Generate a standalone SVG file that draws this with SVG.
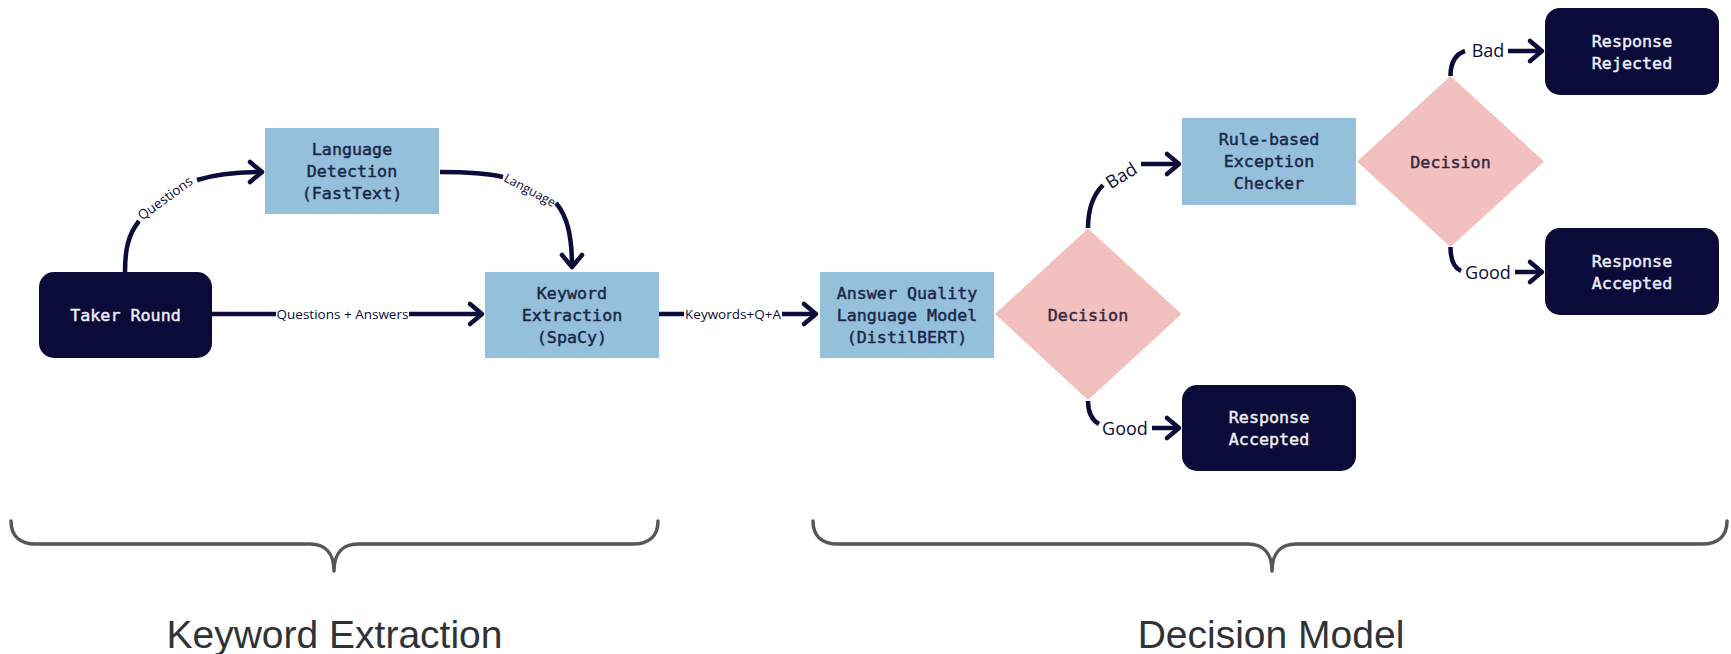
<svg xmlns="http://www.w3.org/2000/svg" width="1731" height="654" viewBox="0 0 1731 654">
  <style>
    .box { fill: #94c0dc; }
    .dark { fill: #0b0b3a; }
    .dia { fill: #f2c0bf; }
    .t { font-family: "DejaVu Sans Mono", "Liberation Mono", monospace; font-size: 16.7px; text-anchor: middle; dominant-baseline: central; stroke-width: 0.45; }
    .tb { fill: #1b2748; stroke: #1b2748; }
    .tw { fill: #eceef5; stroke: #eceef5; }
    .td { fill: #35283f; stroke: #35283f; }
    .c { fill: none; stroke: #0c0c3c; stroke-width: 4.5; stroke-linecap: butt; }
    .lab { font-family: "Open Sans", "Noto Sans", sans-serif; fill: #0c0c3c; text-anchor: middle; dominant-baseline: central; }
    .s { font-size: 13.5px; }
    .m { font-size: 18px; }
    .brace { fill: none; stroke: #555759; stroke-width: 3.5; stroke-linecap: round; stroke-linejoin: round; }
    .bl { font-family: "Liberation Sans", Arial, sans-serif; font-size: 39px; fill: #2f3337; text-anchor: middle; }
  </style>
  <defs>
    <marker id="arrow" markerUnits="userSpaceOnUse" viewBox="-16 -14 20 28" markerWidth="20" markerHeight="28" refX="0" refY="0" orient="auto">
      <path d="M-12,-10 L0,0 L-12,10" fill="none" stroke="#0c0c3c" stroke-width="4.5" stroke-linecap="round" stroke-linejoin="round"/>
    </marker>
  </defs>

  <rect width="1731" height="654" fill="#ffffff"/>

  <!-- pipeline nodes -->
  <g id="taker-round">
    <rect class="dark" x="39" y="272" width="173" height="86" rx="15"/>
    <text class="t tw" x="125.5" y="315">Taker Round</text>
  </g>
  <g id="language-detection">
    <rect class="box" x="265" y="128" width="174" height="86"/>
    <text class="t tb"><tspan x="352" y="149">Language</tspan><tspan x="352" y="171">Detection</tspan><tspan x="352" y="193">(FastText)</tspan></text>
  </g>
  <g id="keyword-extraction">
    <rect class="box" x="485" y="272" width="174" height="86"/>
    <text class="t tb"><tspan x="572" y="293">Keyword</tspan><tspan x="572" y="315">Extraction</tspan><tspan x="572" y="337">(SpaCy)</tspan></text>
  </g>
  <g id="answer-quality">
    <rect class="box" x="820" y="272" width="174" height="86"/>
    <text class="t tb"><tspan x="907" y="293">Answer Quality</tspan><tspan x="907" y="315">Language Model</tspan><tspan x="907" y="337">(DistilBERT)</tspan></text>
  </g>
  <g id="decision-1">
    <polygon class="dia" points="995,314 1088,228.5 1181.5,314 1088,400"/>
    <text class="t td" x="1088" y="315">Decision</text>
  </g>
  <g id="exception-checker">
    <rect class="box" x="1182" y="118" width="174" height="87"/>
    <text class="t tb"><tspan x="1269" y="139">Rule-based</tspan><tspan x="1269" y="161">Exception</tspan><tspan x="1269" y="183">Checker</tspan></text>
  </g>
  <g id="accepted-1">
    <rect class="dark" x="1182" y="385" width="174" height="86" rx="15"/>
    <text class="t tw"><tspan x="1269" y="417">Response</tspan><tspan x="1269" y="439">Accepted</tspan></text>
  </g>
  <g id="decision-2">
    <polygon class="dia" points="1357,161.5 1450.5,76 1544,161.5 1450.5,247"/>
    <text class="t td" x="1450.5" y="162">Decision</text>
  </g>
  <g id="rejected">
    <rect class="dark" x="1545" y="8" width="174" height="87" rx="15"/>
    <text class="t tw"><tspan x="1632" y="41">Response</tspan><tspan x="1632" y="63">Rejected</tspan></text>
  </g>
  <g id="accepted-2">
    <rect class="dark" x="1545" y="228" width="174" height="87" rx="15"/>
    <text class="t tw"><tspan x="1632" y="261">Response</tspan><tspan x="1632" y="283">Accepted</tspan></text>
  </g>

  <!-- connectors and their labels -->
  <g id="connectors">
    <path class="c" d="M125,272 C125,250 128,235 139,221"/>
    <text class="lab s" x="165" y="198" transform="rotate(-36 165 198)">Questions</text>
    <path class="c" d="M197,180 C217,174 238,172 262,172" marker-end="url(#arrow)"/>

    <path class="c" d="M440,172 C466,172 486,173 503,177"/>
    <text class="lab" style="font-size:12.5px" x="530" y="190" transform="rotate(28 530 190)">Language</text>
    <path class="c" d="M556,203 C567,216 572,235 572,267" marker-end="url(#arrow)"/>

    <path class="c" d="M212,314 L276,314"/>
    <text class="lab s" x="342.5" y="314">Questions + Answers</text>
    <path class="c" d="M409,314 L482,314" marker-end="url(#arrow)"/>

    <path class="c" d="M659,314 L684,314"/>
    <text class="lab s" x="733" y="314">Keywords+Q+A</text>
    <path class="c" d="M782,314 L816,314" marker-end="url(#arrow)"/>

    <path class="c" d="M1088,228 C1088,208 1093,195 1103,185"/>
    <text class="lab m" x="1121" y="175" transform="rotate(-32 1121 175)">Bad</text>
    <path class="c" d="M1141,164 L1179,164" marker-end="url(#arrow)"/>

    <path class="c" d="M1088,401 Q1088,418 1099,424"/>
    <text class="lab m" x="1125" y="428">Good</text>
    <path class="c" d="M1152,428 L1179,428" marker-end="url(#arrow)"/>

    <path class="c" d="M1450.5,76 Q1450.5,56 1465,51"/>
    <text class="lab m" x="1488" y="50">Bad</text>
    <path class="c" d="M1508,51 L1542,51" marker-end="url(#arrow)"/>

    <path class="c" d="M1450.5,247 Q1450.5,266 1461,271"/>
    <text class="lab m" x="1488" y="272">Good</text>
    <path class="c" d="M1515,272 L1542,272" marker-end="url(#arrow)"/>
  </g>

  <!-- stage braces -->
  <g id="stage-keyword-extraction">
    <path class="brace" d="M11,521 C11,536 20,544 36,544 L310,544 C324,544 334,552 334,571 C334,552 344,544 358,544 L633,544 C649,544 658,536 658,521"/>
    <text class="bl" x="334.5" y="648">Keyword Extraction</text>
  </g>
  <g id="stage-decision-model">
    <path class="brace" d="M813,521 C813,536 822,544 838,544 L1248,544 C1262,544 1272,552 1272,571 C1272,552 1282,544 1296,544 L1702,544 C1718,544 1727,536 1727,521"/>
    <text class="bl" x="1271" y="648">Decision Model</text>
  </g>
</svg>
